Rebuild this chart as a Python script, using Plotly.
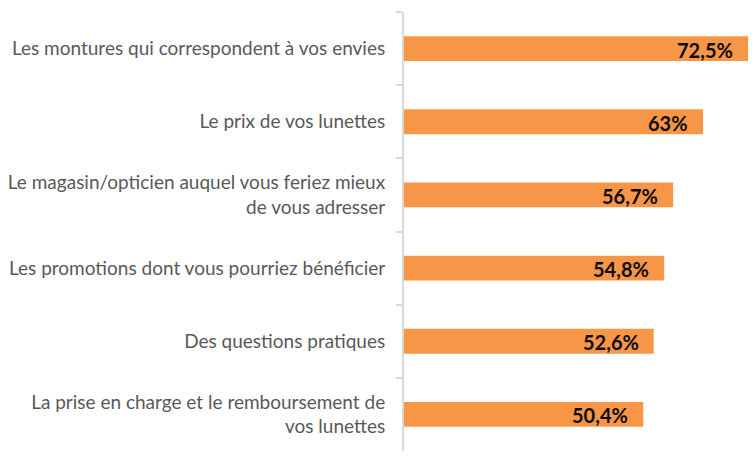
import plotly.graph_objects as go

categories = [
    "Les montures qui correspondent à vos envies",
    "Le prix de vos lunettes",
    "Le magasin/opticien auquel vous feriez mieux<br>de vous adresser",
    "Les promotions dont vous pourriez bénéficier",
    "Des questions pratiques",
    "La prise en charge et le remboursement de<br>vos lunettes",
]
values = [72.5, 63, 56.7, 54.8, 52.6, 50.4]
value_labels = ["72,5%", "63%", "56,7%", "54,8%", "52,6%", "50,4%"]

fig = go.Figure()
fig.add_trace(go.Bar(
    x=values, y=categories, orientation="h",
    marker=dict(color="#F79646", line=dict(width=0)),
    width=0.34, hoverinfo="skip",
))
for v, c, t in zip(values, categories, value_labels):
    fig.add_annotation(x=v, y=c, text=t, showarrow=False, xanchor="right",
                       xshift=-13, yshift=-1,
                       font=dict(family="Lato", size=20, color="#0D0D0D", weight="bold"))

fig.update_layout(
    width=756, height=461,
    margin=dict(l=396, r=12, t=4, b=18),
    plot_bgcolor="white", paper_bgcolor="white",
    showlegend=False,
    xaxis=dict(range=[0, 73.3], visible=False, fixedrange=True, automargin=False),
    yaxis=dict(
        autorange="reversed", showline=True, linecolor="#D9D9D9", linewidth=2,
        ticks="outside", tickson="boundaries", ticklen=6, tickcolor="#D9D9D9", tickwidth=2,
        ticklabelstandoff=13, showgrid=False, automargin=False,
        tickfont=dict(family="Lato", size=19, color="#595959"),
    ),
)
fig.write_html("out.html")
